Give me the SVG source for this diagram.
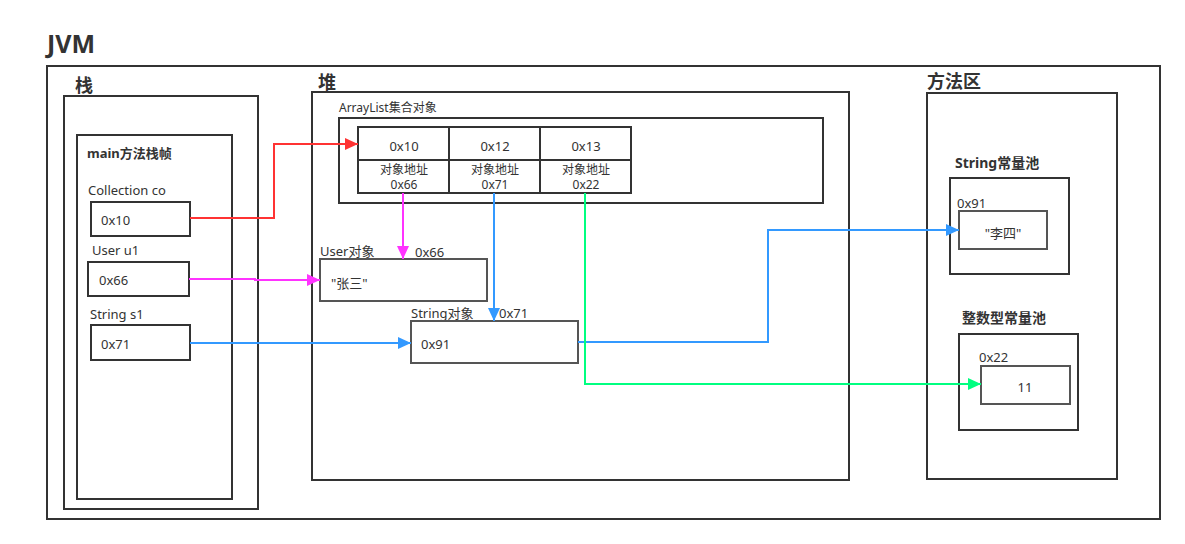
<svg xmlns="http://www.w3.org/2000/svg" width="1185" height="544" viewBox="0 0 1185 544">
<style>
text{font-family:"Noto Sans","Noto Sans CJK SC",sans-serif;fill:#333;font-size:13px}
.b{font-weight:bold}
.t{font-size:14px;font-weight:bold}
.h{font-size:18px;font-weight:bold}
.c{text-anchor:middle}
.s{font-size:12px}
rect{fill:none;stroke:#333;stroke-width:2}
.g{stroke:#555}
.w{fill:none;stroke-width:2}
</style>
<defs>
<marker id="ar" markerUnits="userSpaceOnUse" markerWidth="14" markerHeight="12" refX="13" refY="6" orient="auto"><path d="M0,0L13,6L0,12z" fill="#FF3333"/></marker>
<marker id="am" markerUnits="userSpaceOnUse" markerWidth="14" markerHeight="12" refX="13" refY="6" orient="auto"><path d="M0,0L13,6L0,12z" fill="#FF33FF"/></marker>
<marker id="ab" markerUnits="userSpaceOnUse" markerWidth="14" markerHeight="12" refX="13" refY="6" orient="auto"><path d="M0,0L13,6L0,12z" fill="#3399FF"/></marker>
<marker id="ag" markerUnits="userSpaceOnUse" markerWidth="14" markerHeight="12" refX="13" refY="6" orient="auto"><path d="M0,0L13,6L0,12z" fill="#00FF80"/></marker>
</defs>
<g id="jvm">
<text x="47" y="53" style="font-size:25px;font-weight:bold">JVM</text>
<rect x="47" y="66" width="1113" height="453"/>
</g>
<g id="stack">
<text x="75" y="92" class="h">栈</text>
<rect x="64" y="96" width="194" height="413"/>
</g>
<g id="mainframe">
<rect x="77" y="135" width="155" height="364"/>
<text x="87" y="158" class="b">main方法栈帧</text>
</g>
<g id="var-co">
<text x="88" y="195">Collection co</text>
<rect x="91" y="202" width="99" height="34"/>
<text x="101" y="225">0x10</text>
</g>
<g id="var-u1">
<text x="92" y="255">User u1</text>
<rect x="88" y="262" width="101" height="34"/>
<text x="99" y="285">0x66</text>
</g>
<g id="var-s1">
<text x="90" y="319">String s1</text>
<rect x="91" y="325" width="99" height="35"/>
<text x="101" y="349">0x71</text>
</g>
<g id="heap">
<text x="318" y="89" class="h">堆</text>
<rect x="312" y="92" width="537" height="388"/>
</g>
<g id="arraylist">
<text x="339" y="112" class="s">ArrayList集合对象</text>
<rect x="339" y="118" width="484" height="85"/>
<rect x="358" y="127" width="91" height="33"/>
<rect x="449" y="127" width="91" height="33"/>
<rect x="540" y="127" width="91" height="33"/>
<rect x="358" y="160" width="91" height="33"/>
<rect x="449" y="160" width="91" height="33"/>
<rect x="540" y="160" width="91" height="33"/>
<text x="404" y="151" class="c">0x10</text>
<text x="495" y="151" class="c">0x12</text>
<text x="586" y="151" class="c">0x13</text>
<text x="404" y="174" class="c s">对象地址</text>
<text x="404" y="189" class="c s">0x66</text>
<text x="495" y="174" class="c s">对象地址</text>
<text x="495" y="189" class="c s">0x71</text>
<text x="586" y="174" class="c s">对象地址</text>
<text x="586" y="189" class="c s">0x22</text>
</g>
<g id="userobj">
<text x="320" y="256">User对象</text>
<text x="415" y="257">0x66</text>
<rect x="320" y="259" width="167" height="42" class="g"/>
<text x="331" y="288">"张三"</text>
</g>
<g id="stringobj">
<text x="411" y="318">String对象</text>
<text x="499" y="318">0x71</text>
<rect x="411" y="321" width="167" height="42" class="g"/>
<text x="421" y="349">0x91</text>
</g>
<g id="methodarea">
<text x="927" y="88" class="h">方法区</text>
<rect x="927" y="93" width="190" height="386"/>
</g>
<g id="stringpool">
<text x="955" y="168" class="t">String常量池</text>
<rect x="950" y="178" width="119" height="96"/>
<text x="957" y="208">0x91</text>
<rect x="959" y="211" width="88" height="38" class="g"/>
<text x="1003" y="238" class="c">"李四"</text>
</g>
<g id="intpool">
<text x="962" y="323" class="t">整数型常量池</text>
<rect x="959" y="334" width="119" height="96"/>
<text x="979" y="362">0x22</text>
<rect x="981" y="366" width="89" height="38" class="g"/>
<text x="1025" y="392" class="c">11</text>
</g>
<g id="connectors">
<path d="M190,218H274V144H358" class="w" stroke="#FF3333" marker-end="url(#ar)"/>
<path d="M403,193V259" class="w" stroke="#FF33FF" marker-end="url(#am)"/>
<path d="M189,279H255V280H320" class="w" stroke="#FF33FF" marker-end="url(#am)"/>
<path d="M494,193V321" class="w" stroke="#3399FF" marker-end="url(#ab)"/>
<path d="M190,343H411" class="w" stroke="#3399FF" marker-end="url(#ab)"/>
<path d="M578,342H768V230H959" class="w" stroke="#3399FF" marker-end="url(#ab)"/>
<path d="M585,193V384H981" class="w" stroke="#00FF80" marker-end="url(#ag)"/>
</g>
</svg>
